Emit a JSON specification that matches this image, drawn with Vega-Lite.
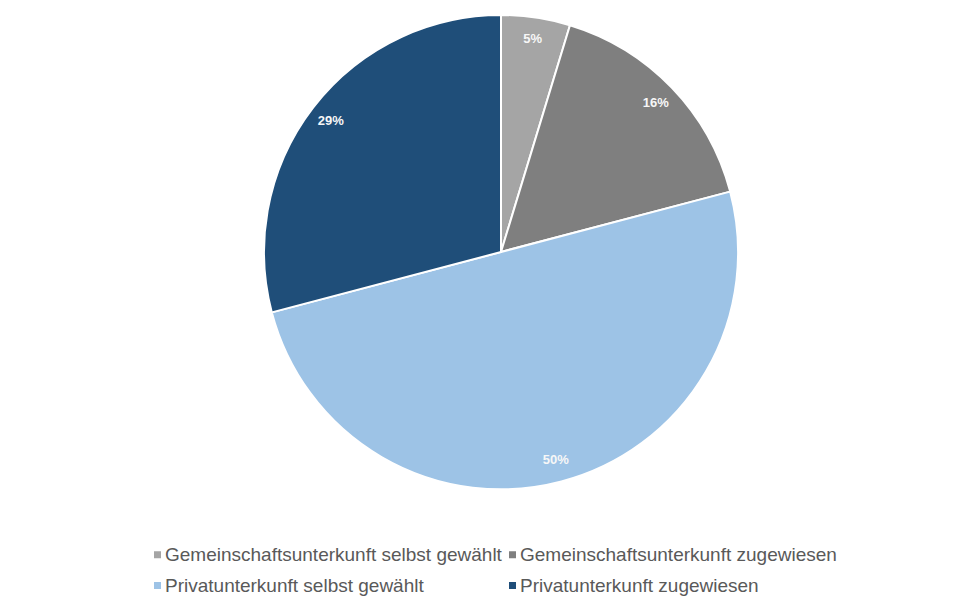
{
  "$schema": "https://vega.github.io/schema/vega-lite/v6.json",
  "width": 958,
  "height": 504,
  "autosize": "none",
  "padding": {"left": 22, "top": 0, "right": 0, "bottom": 93},
  "background": "white",
  "config": {"view": {"stroke": null}, "font": "Liberation Sans"},
  "data": {
    "values": [
      {"kategorie": "Gemeinschaftsunterkunft selbst gewählt", "anteil": 4.7, "label": "5%", "ord": 1},
      {"kategorie": "Gemeinschaftsunterkunft zugewiesen", "anteil": 16.2, "label": "16%", "ord": 2},
      {"kategorie": "Privatunterkunft selbst gewählt", "anteil": 50.0, "label": "50%", "ord": 3},
      {"kategorie": "Privatunterkunft zugewiesen", "anteil": 29.1, "label": "29%", "ord": 4}
    ]
  },
  "encoding": {
    "theta": {"field": "anteil", "type": "quantitative", "stack": true},
    "order": {"field": "ord", "type": "quantitative"}
  },
  "layer": [
    {
      "mark": {"type": "arc", "outerRadius": 237, "stroke": "white", "strokeWidth": 2},
      "encoding": {
        "color": {
          "field": "kategorie",
          "type": "nominal",
          "sort": ["Gemeinschaftsunterkunft selbst gewählt", "Gemeinschaftsunterkunft zugewiesen", "Privatunterkunft selbst gewählt", "Privatunterkunft zugewiesen"],
          "scale": {
            "domain": ["Gemeinschaftsunterkunft selbst gewählt", "Gemeinschaftsunterkunft zugewiesen", "Privatunterkunft selbst gewählt", "Privatunterkunft zugewiesen"],
            "range": ["#a5a5a5", "#7f7f7f", "#9dc3e6", "#1f4e79"]
          },
          "legend": {
            "title": null,
            "orient": "none",
            "legendX": 126,
            "legendY": 545,
            "padding": 0,
            "direction": "horizontal",
            "columns": 2,
            "symbolType": "square",
            "symbolSize": 49,
            "symbolStrokeWidth": 0,
            "labelFont": "Liberation Sans",
            "labelFontSize": 19,
            "labelColor": "#595959",
            "labelLimit": 500,
            "rowPadding": 11,
            "columnPadding": 1,
            "symbolOffset": 0,
            "labelOffset": -2
          }
        }
      }
    },
    {
      "mark": {"type": "text", "radius": 215, "font": "Liberation Sans", "fontSize": 13, "fontWeight": "bold", "color": "#f7f7f7"},
      "encoding": {
        "text": {"field": "label", "type": "nominal"}
      }
    }
  ]
}
